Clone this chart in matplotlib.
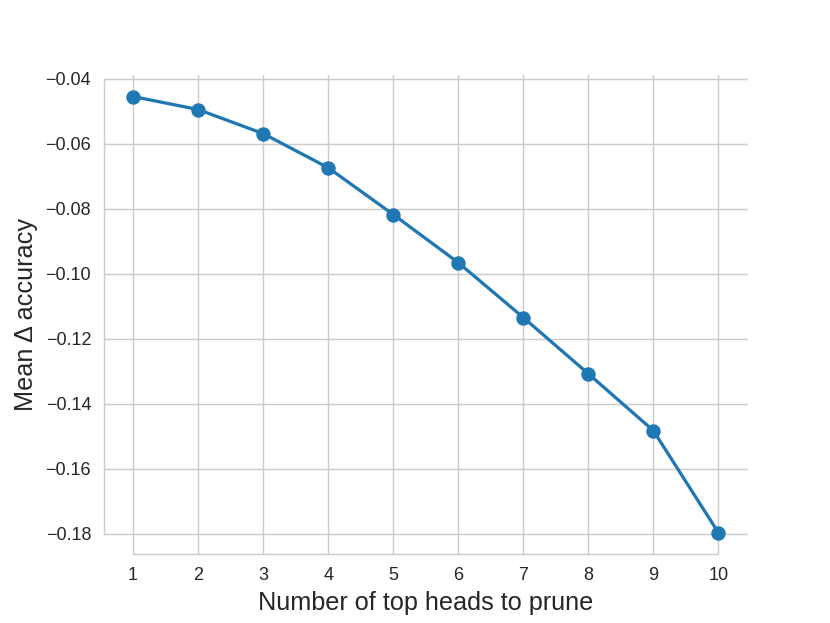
import numpy as np
import matplotlib
matplotlib.use("Agg")
import matplotlib.pyplot as plt
import seaborn as sns

n_heads = [1, 2, 3, 4, 5, 6, 7, 8, 9, 10]
mean_delta_acc = [-0.0455, -0.0495, -0.0569, -0.0674, -0.0818,
                  -0.0966, -0.1135, -0.1308, -0.1483, -0.1797]
y_ticks = [-0.18, -0.16, -0.14, -0.12, -0.10, -0.08, -0.06, -0.04]

sns.set_style("whitegrid")
plt.rcParams["font.family"] = ["Liberation Sans", "DejaVu Sans"]

fig, ax = plt.subplots(figsize=(6.4, 4.8), dpi=129.8)
ax.plot(n_heads, mean_delta_acc, marker="o", color="#1f77b4",
        linewidth=1.8, markersize=7)
ax.set_xticks(n_heads)
ax.set_yticks(y_ticks)
ax.tick_params(labelsize=10)
ax.set_xlabel("Number of top heads to prune", fontsize=14)
ax.set_ylabel("Mean Δ accuracy", fontsize=14)
sns.despine(trim=True)

fig.savefig("out.png", dpi=129.8)
